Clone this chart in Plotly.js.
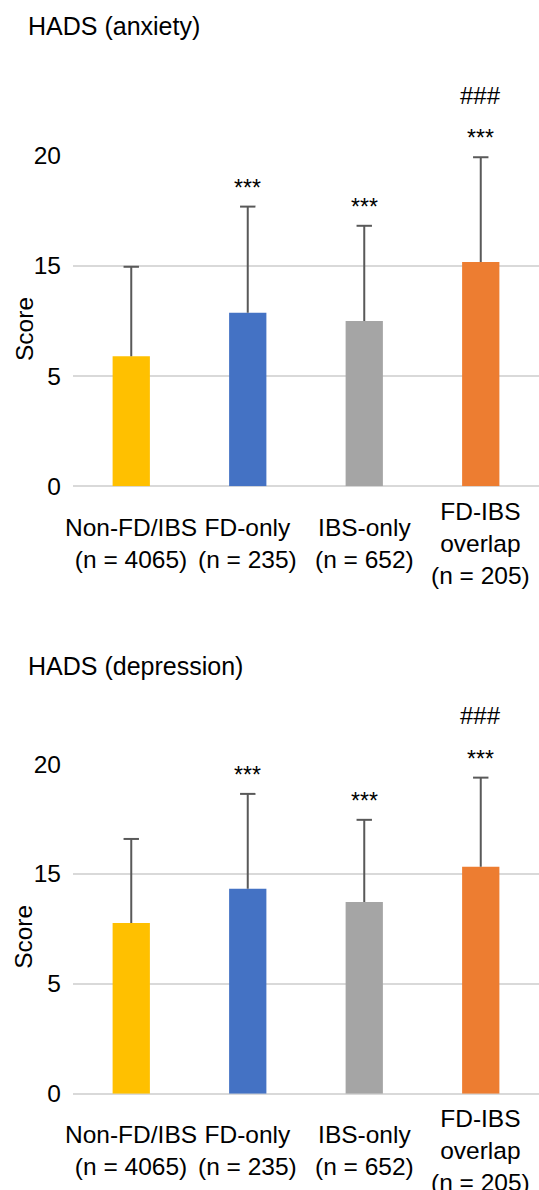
<!DOCTYPE html>
<html>
<head>
<meta charset="utf-8">
<script src="https://cdn.plot.ly/plotly-3.0.1.min.js"></script>
<style>html,body{margin:0;padding:0;background:#fff;}#chart{width:539px;height:1190px;}</style>
</head>
<body>
<div id="chart"></div>
<script>
// ---- data ----
const categories = ["Non-FD/IBS<br>(n = 4065)", "FD-only<br>(n = 235)", "IBS-only<br>(n = 652)", "FD-IBS<br>overlap<br>(n = 205)"];
const barColors = ["#FFC000", "#4472C4", "#A5A5A5", "#ED7D31"];
const anxietyMean = [5.9, 7.87, 7.5, 10.18];
const anxietySD = [4.06, 4.82, 4.32, 4.75];
const depressionMean = [7.77, 9.32, 8.72, 10.32];
const depressionSD = [3.82, 4.32, 3.74, 4.06];
const starMarks = ["", "***", "***", "***"];
const hashMarks = ["", "", "", "###"];
const tickVals = [0, 5, 10, 15];
const tickText = ["0", "5", "15", "20"];
const panelTitles = ["HADS (anxiety)", "HADS (depression)"];
const yTitle = "Score";

const FONT = "Liberation Sans, Arial, sans-serif";
const FS = 24.5;

function barTrace(mean, xa, ya) {
  return {
    type: "bar", x: categories, y: mean, xaxis: xa, yaxis: ya,
    marker: {color: barColors, line: {width: 0}},
    hoverinfo: "skip", showlegend: false
  };
}
// whisker drawn from the top of the error bar down to the bar top, with a cap at the top only
function whiskerTrace(mean, sd, xa, ya) {
  return {
    type: "scatter", mode: "markers", x: categories, y: mean.map((m, i) => m + sd[i]),
    xaxis: xa, yaxis: ya, cliponaxis: false,
    marker: {symbol: "line-ew", size: 11, color: "#595959", line: {color: "#595959", width: 2}},
    error_y: {type: "data", symmetric: false, array: sd.map(() => 0), arrayminus: sd,
              color: "#595959", thickness: 2, width: 0},
    hoverinfo: "skip", showlegend: false
  };
}

const data = [
  barTrace(anxietyMean, "x", "y"),
  whiskerTrace(anxietyMean, anxietySD, "x", "y"),
  barTrace(depressionMean, "x2", "y2"),
  whiskerTrace(depressionMean, depressionSD, "x2", "y2")
];

const annotations = [];
function addPanel(mean, sd, xr, yr, title, titleShift) {
  categories.forEach((c, i) => {
    const top = mean[i] + sd[i];
    if (starMarks[i]) annotations.push({x: c, y: top, xref: xr, yref: yr, text: starMarks[i],
      showarrow: false, yanchor: "middle", yshift: 19, font: {family: FONT, size: 23, color: "#000"}});
    if (hashMarks[i]) annotations.push({x: c, y: top, xref: xr, yref: yr, text: hashMarks[i],
      showarrow: false, yanchor: "middle", yshift: 62, font: {family: FONT, size: 24, color: "#000"}});
    // category label, vertically centred below the axis
    annotations.push({x: c, y: 0, xref: xr, yref: yr, text: c, showarrow: false,
      yanchor: "middle", yshift: -57, align: "center", font: {family: FONT, size: FS, color: "#000"}});
  });
  annotations.push({xref: "paper", yref: yr + " domain", x: (24 - 73) / 466, xanchor: "center", y: 0.5, yanchor: "middle",
    yshift: -8, textangle: -90, text: yTitle, showarrow: false, font: {family: FONT, size: FS, color: "#000"}});
  annotations.push({xref: "paper", yref: yr + " domain", x: (26 - 73) / 466, xanchor: "left", y: 1, yanchor: "middle",
    yshift: titleShift, text: title, showarrow: false, font: {family: FONT, size: 25, color: "#000"}});
}
addPanel(anxietyMean, anxietySD, "x", "y", panelTitles[0], 130);
addPanel(depressionMean, depressionSD, "x2", "y2", panelTitles[1], 98);

function xAxis(anchor) {
  return {anchor: anchor, type: "category", range: [-0.5, categories.length - 0.5], autorange: false,
    showgrid: false, zeroline: false, showline: false, showticklabels: false, ticks: "", fixedrange: true};
}
function yAxis(anchor, domain) {
  return {anchor: anchor, domain: domain, range: [0, 15], autorange: false, tickvals: tickVals, ticktext: tickText,
    showgrid: true, gridcolor: "#D9D9D9", gridwidth: 2, zeroline: true, zerolinecolor: "#D9D9D9", zerolinewidth: 2,
    showline: false, ticks: "", ticklabelstandoff: 11, tickfont: {family: FONT, size: FS, color: "#000"}, fixedrange: true};
}

const layout = {
  width: 539, height: 1190,
  margin: {l: 73, r: 0, t: 0, b: 0},
  paper_bgcolor: "#fff", plot_bgcolor: "#fff",
  bargap: 0.68,
  font: {family: FONT, color: "#000"},
  xaxis: xAxis("y"),
  yaxis: yAxis("x", [1 - 486.3/1190, 1 - 155.7/1190]),
  xaxis2: xAxis("y2"),
  yaxis2: yAxis("x2", [1 - 1093.7/1190, 1 - 764/1190]),
  annotations: annotations,
  showlegend: false
};

Plotly.newPlot("chart", data, layout, {displayModeBar: false, staticPlot: true});
</script>
</body>
</html>
